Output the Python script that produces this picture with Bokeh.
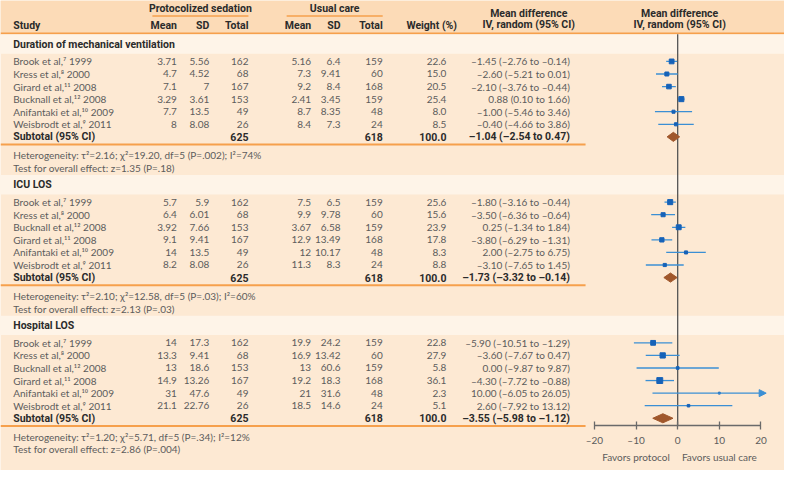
import math
from bokeh.plotting import figure
from bokeh.models import Range1d, LinearAxis, FixedTicker, Arrow, NormalHead, ColumnDataSource
from bokeh.core.properties import value
from bokeh.embed import file_html
from bokeh.resources import INLINE

# ---------------- data ----------------
section_titles = ["Duration of mechanical ventilation", "ICU LOS", "Hospital LOS"]

mv_studies = ["Brook et al,\u2077 1999", "Kress et al,\u2078 2000", "Girard et al,\u00b9\u00b9 2008",
              "Bucknall et al,\u00b9\u00b2 2008", "Anifantaki et al,\u00b9\u2070 2009", "Weisbrodt et al,\u2079 2011"]
mv_prot_mean = [3.71, 4.7, 7.1, 3.29, 7.7, 8]
mv_prot_sd = [5.56, 4.52, 7, 3.61, 13.5, 8.08]
mv_prot_n = [162, 68, 167, 153, 49, 26]
mv_usual_mean = [5.16, 7.3, 9.2, 2.41, 8.7, 8.4]
mv_usual_sd = [6.4, 9.41, 8.4, 3.45, 8.35, 7.3]
mv_usual_n = [159, 60, 168, 159, 48, 24]
mv_weight = [22.6, 15.0, 20.5, 25.4, 8.0, 8.5]
mv_md = [-1.45, -2.60, -2.10, 0.88, -1.00, -0.40]
mv_lo = [-2.76, -5.21, -3.76, 0.10, -5.46, -4.66]
mv_hi = [-0.14, 0.01, -0.44, 1.66, 3.46, 3.86]
mv_total = [625, 618, 100.0, -1.04, -2.54, 0.47]
mv_het = ["Heterogeneity: \u03c4\u00b2=2.16; \u03c7\u00b2=19.20, df=5 (P=.002); I\u00b2=74%",
          "Test for overall effect: z=1.35 (P=.18)"]

icu_studies = ["Brook et al,\u2077 1999", "Kress et al,\u2078 2000", "Bucknall et al,\u00b9\u00b2 2008",
               "Girard et al,\u00b9\u00b9 2008", "Anifantaki et al,\u00b9\u2070 2009", "Weisbrodt et al,\u2079 2011"]
icu_prot_mean = [5.7, 6.4, 3.92, 9.1, 14, 8.2]
icu_prot_sd = [5.9, 6.01, 7.66, 9.41, 13.5, 8.08]
icu_prot_n = [162, 68, 153, 167, 49, 26]
icu_usual_mean = [7.5, 9.9, 3.67, 12.9, 12, 11.3]
icu_usual_sd = [6.5, 9.78, 6.58, 13.49, 10.17, 8.3]
icu_usual_n = [159, 60, 159, 168, 48, 24]
icu_weight = [25.6, 15.6, 23.9, 17.8, 8.3, 8.8]
icu_md = [-1.80, -3.50, 0.25, -3.80, 2.00, -3.10]
icu_lo = [-3.16, -6.36, -1.34, -6.29, -2.75, -7.65]
icu_hi = [-0.44, -0.64, 1.84, -1.31, 6.75, 1.45]
icu_total = [625, 618, 100.0, -1.73, -3.32, -0.14]
icu_het = ["Heterogeneity: \u03c4\u00b2=2.10; \u03c7\u00b2=12.58, df=5 (P=.03); I\u00b2=60%",
           "Test for overall effect: z=2.13 (P=.03)"]

hosp_studies = ["Brook et al,\u2077 1999", "Kress et al,\u2078 2000", "Bucknall et al,\u00b9\u00b2 2008",
                "Girard et al,\u00b9\u00b9 2008", "Anifantaki et al,\u00b9\u2070 2009", "Weisbrodt et al,\u2079 2011"]
hosp_prot_mean = [14, 13.3, 13, 14.9, 31, 21.1]
hosp_prot_sd = [17.3, 9.41, 18.6, 13.26, 47.6, 22.76]
hosp_prot_n = [162, 68, 153, 167, 49, 26]
hosp_usual_mean = [19.9, 16.9, 13, 19.2, 21, 18.5]
hosp_usual_sd = [24.2, 13.42, 60.6, 18.3, 31.6, 14.6]
hosp_usual_n = [159, 60, 159, 168, 48, 24]
hosp_weight = [22.8, 27.9, 5.8, 36.1, 2.3, 5.1]
hosp_md = [-5.90, -3.60, 0.00, -4.30, 10.00, 2.60]
hosp_lo = [-10.51, -7.67, -9.87, -7.72, -6.05, -7.92]
hosp_hi = [-1.29, 0.47, 9.87, -0.88, 26.05, 13.12]
hosp_total = [625, 618, 100.0, -3.55, -5.98, -1.12]
hosp_het = ["Heterogeneity: \u03c4\u00b2=1.20; \u03c7\u00b2=5.71, df=5 (P=.34); I\u00b2=12%",
            "Test for overall effect: z=2.86 (P=.004)"]

axis_ticks = [-20, -10, 0, 10, 20]
axis_labels = ["\u201320", "\u201310", "0", "10", "20"]
favors = ["Favors protocol", "Favors usual care"]

sections = [
    (mv_studies, mv_prot_mean, mv_prot_sd, mv_prot_n, mv_usual_mean, mv_usual_sd, mv_usual_n,
     mv_weight, mv_md, mv_lo, mv_hi, mv_total, mv_het),
    (icu_studies, icu_prot_mean, icu_prot_sd, icu_prot_n, icu_usual_mean, icu_usual_sd, icu_usual_n,
     icu_weight, icu_md, icu_lo, icu_hi, icu_total, icu_het),
    (hosp_studies, hosp_prot_mean, hosp_prot_sd, hosp_prot_n, hosp_usual_mean, hosp_usual_sd, hosp_usual_n,
     hosp_weight, hosp_md, hosp_lo, hosp_hi, hosp_total, hosp_het),
]

# ---------------- style ----------------
HEADER_BG = "#fcdbb7"
BODY_BG = "#fde9d3"
BAND_BG = "#fef4e8"
ORANGE = "#f6a04c"
TXT = "#5c5c5c"
DARK = "#2b2b2b"
SQ = "#1662b8"
CI = "#3b8fd4"
DIA = "#a0572b"
DATA_FONT = value("Lato")
HEAD_FONT = value("'Liberation Sans Narrow', 'Roboto', sans-serif")
FS = "10px"
HFS = "10.5px"

XMAX, YMAX = 800, 486
# forest scale: -20 at 606, +20 at 776 of XMAX
k = 40 / 170
fr = Range1d(-20 - 606 * k, 20 + (XMAX - 776) * k)

p = figure(width=784, height=470, x_range=Range1d(0, XMAX), y_range=Range1d(YMAX, 0),
           x_axis_type=None, y_axis_type=None, toolbar_location=None, output_backend="svg",
           min_border=0, outline_line_color=None, background_fill_color=BODY_BG,
           border_fill_color=BODY_BG)
p.extra_x_ranges = {"forest": fr}
p.grid.visible = False


def fnum(v):
    return f"{v:g}"


def fmd(v):
    return f"{v:.2f}".replace("-", "\u2013")


texts = {}


def add_text(x, y, t, align="left", bold=False, color=TXT, font="data", rng="default"):
    key = (align, bold, color, font, rng)
    d = texts.setdefault(key, {"x": [], "y": [], "t": []})
    d["x"].append(x)
    d["y"].append(y)
    d["t"].append(t)


# header background
p.quad(left=0, right=XMAX, top=0, bottom=34, fill_color=HEADER_BG, line_color=None)
p.segment(x0=0, x1=XMAX, y0=34, y1=34, line_color=ORANGE, line_width=2)
p.segment(x0=[155, 292], x1=[253, 390], y0=[16, 16], y1=[16, 16], line_color=ORANGE, line_width=1.5)

add_text(204, 8, "Protocolized sedation", "center", True, DARK, "head")
add_text(341, 8, "Usual care", "center", True, DARK, "head")
add_text(13, 26, "Study", "left", True, DARK, "head")
for xr, lab in [(180, "Mean"), (213, "SD"), (253, "Total"), (317, "Mean"), (347, "SD"), (390, "Total")]:
    add_text(xr, 26, lab, "right", True, DARK, "head")
add_text(440, 26, "Weight (%)", "center", True, DARK, "head")
add_text(539, 13, "Mean difference", "center", True, DARK, "head")
add_text(539, 25, "IV, random (95% CI)", "center", True, DARK, "head")
add_text(693, 13, "Mean difference", "center", True, DARK, "head")
add_text(693, 25, "IV, random (95% CI)", "center", True, DARK, "head")

sq_x, sq_y, sq_s = [], [], []
ci_x0, ci_x1, ci_y = [], [], []
arrows = []
dia_xs, dia_ys = [], []

for si, sec in enumerate(sections):
    (studies, pm, psd, pn, um, usd, un, w, md, lo, hi, tot, het) = sec
    top = 35 + si * 145.5
    p.quad(left=0, right=XMAX, top=top, bottom=top + 20, fill_color=BAND_BG, line_color=None)
    add_text(13, top + 10, section_titles[si], "left", True, DARK, "head")
    for i in range(len(studies)):
        y = top + 28 + i * 13
        add_text(13, y, studies[i])
        add_text(180, y, fnum(pm[i]), "right")
        add_text(213, y, fnum(psd[i]), "right")
        add_text(253, y, fnum(pn[i]), "right")
        add_text(317, y, fnum(um[i]), "right")
        add_text(347, y, fnum(usd[i]), "right")
        add_text(390, y, fnum(un[i]), "right")
        add_text(455, y, f"{w[i]:.1f}", "right")
        add_text(581, y, f"{fmd(md[i])} ({fmd(lo[i])} to {fmd(hi[i])})", "right")
        sq_x.append(md[i]); sq_y.append(y); sq_s.append(math.sqrt(w[i]) * 0.9 + 0.5)
        if hi[i] > 21:
            arrows.append((lo[i], y))
        else:
            ci_x0.append(lo[i]); ci_x1.append(hi[i]); ci_y.append(y)
    ys = top + 28 + 6 * 13
    add_text(13, ys, "Subtotal (95% CI)", "left", True, DARK, "head")
    add_text(253, ys, f"{tot[0]}", "right", True, DARK, "head")
    add_text(390, ys, f"{tot[1]}", "right", True, DARK, "head")
    add_text(455, ys, f"{tot[2]:.1f}", "right", True, DARK, "head")
    add_text(581, ys, f"{fmd(tot[3])} ({fmd(tot[4])} to {fmd(tot[5])})", "right", True, DARK, "head")
    dia_xs.append([tot[4], tot[3], tot[5], tot[3]])
    dia_ys.append([ys, ys - 4.7, ys, ys + 4.7])
    p.segment(x0=0, x1=597, y0=ys + 8, y1=ys + 8, line_color=ORANGE, line_width=2)
    add_text(13, ys + 19, het[0])
    add_text(13, ys + 32, het[1])

# zero line
p.segment(x0=0, x1=0, y0=35, y1=439, line_color="#555555", line_width=1.3, x_range_name="forest")

# CIs
p.segment(x0=ci_x0, x1=ci_x1, y0=ci_y, y1=ci_y, line_color=CI, line_width=1.3, x_range_name="forest")
for (l, y) in arrows:
    p.add_layout(Arrow(x_start=l, x_end=fr.end - 4.4, y_start=y, y_end=y, x_range_name="forest",
                       line_color=CI, line_width=1.3,
                       end=NormalHead(size=7, fill_color=CI, line_color=CI)))
p.scatter(x=sq_x, y=sq_y, size=sq_s, marker="square", fill_color=SQ, line_color=SQ,
          x_range_name="forest")
p.patches(xs=dia_xs, ys=dia_ys, fill_color=DIA, line_color=DIA, x_range_name="forest")

# axis
ax = LinearAxis(x_range_name="forest", fixed_location=439, bounds=(-20, 20),
                ticker=FixedTicker(ticks=axis_ticks))
ax.major_label_overrides = {t: l for t, l in zip(axis_ticks, axis_labels)}
ax.axis_line_color = "#6a6a6a"
ax.axis_line_width = 1.5
ax.major_tick_line_color = "#6a6a6a"
ax.major_tick_line_width = 1.3
ax.major_tick_in = 4
ax.major_tick_out = 4
ax.minor_tick_line_color = None
ax.major_label_standoff = 5
ax.major_label_text_font = "Lato"
ax.major_label_text_font_size = FS
ax.major_label_text_color = TXT
p.add_layout(ax, "below")

add_text(-10, 472, favors[0], "center", rng="forest")
add_text(10, 472, favors[1], "center", rng="forest")

for (align, bold, color, font, rng), d in texts.items():
    src = ColumnDataSource(dict(x=d["x"], y=d["y"], t=d["t"]))
    kw = {}
    if rng != "default":
        kw["x_range_name"] = rng
    p.text(x="x", y="y", text="t", source=src, text_align=align, text_baseline="middle",
           text_font=HEAD_FONT if font == "head" else DATA_FONT,
           text_font_style="bold" if bold else "normal",
           text_font_size=HFS if font == "head" else FS, text_color=color, **kw)

open("out.html", "w").write(file_html(p, INLINE))
